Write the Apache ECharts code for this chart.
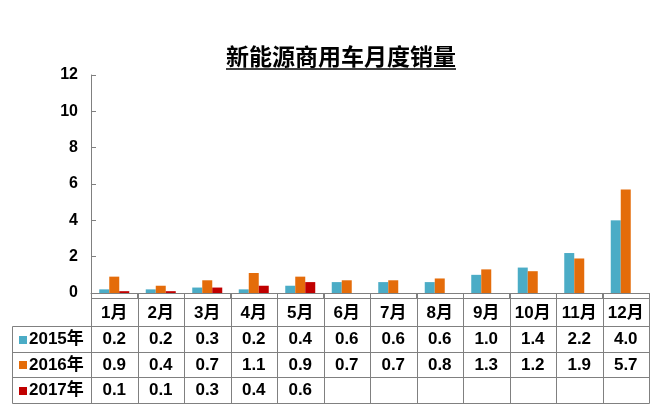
<!DOCTYPE html>
<html>
<head>
<meta charset="utf-8">
<script src="https://cdn.jsdelivr.net/npm/echarts@6/dist/echarts.min.js"></script>
<style>
html,body{margin:0;padding:0;background:#fff;}
#main{width:669px;height:409px;}
</style>
</head>
<body>
<div id="main"></div>
<script>
const titleText = '新能源商用车月度销量';
const months = ['1月','2月','3月','4月','5月','6月','7月','8月','9月','10月','11月','12月'];
const seriesNames = ['2015年','2016年','2017年'];
const sales2015 = [0.2,0.2,0.3,0.2,0.4,0.6,0.6,0.6,1.0,1.4,2.2,4.0];
const sales2016 = [0.9,0.4,0.7,1.1,0.9,0.7,0.7,0.8,1.3,1.2,1.9,5.7];
const sales2017 = [0.1,0.1,0.3,0.4,0.6,null,null,null,null,null,null,null];
const seriesColors = ['#4BACC6','#E46C0A','#C00000'];
const yMin = 0, yMax = 12, yInterval = 2;

const allSeries = [sales2015, sales2016, sales2017];
const FONT_FAMILY = '"Liberation Sans", Arial, "Noto Sans CJK SC", sans-serif';
const lineColor = '#808080';

const chart = echarts.init(document.getElementById('main'), null, {renderer:'canvas'});

const option = {
  animation: false,
  backgroundColor: '#fff',
  grid: {left: 91, right: 20, top: 75, bottom: 116, containLabel: false},
  xAxis: {
    type: 'category',
    data: months,
    axisLine: {lineStyle: {color: lineColor, width: 1}},
    axisTick: {show: true, length: 5, lineStyle: {color: lineColor}},
    axisLabel: {show: false},
    splitLine: {show: false}
  },
  yAxis: {
    type: 'value',
    min: yMin, max: yMax, interval: yInterval,
    axisLine: {show: true, lineStyle: {color: lineColor, width: 1}},
    axisTick: {show: true, inside: true, length: 5, lineStyle: {color: lineColor}},
    axisLabel: {color: '#000', fontWeight: 'bold', fontSize: 16, fontFamily: FONT_FAMILY, margin: 13},
    splitLine: {show: false}
  },
  series: allSeries.map((d, i) => ({
    name: seriesNames[i],
    type: 'bar',
    data: d,
    barWidth: 10,
    barGap: '0%',
    itemStyle: {color: seriesColors[i]}
  }))
};
chart.setOption(option);

// Build the data table and title from the axis scale
function buildGraphics() {
  const els = [];
  const baseY = chart.convertToPixel({yAxisIndex: 0}, 0);
  const centers = months.map(m => chart.convertToPixel({xAxisIndex: 0}, m));
  const band = centers.length > 1 ? (centers[1] - centers[0]) : 46;
  const leftX = centers[0] - band / 2;
  const rightX = centers[centers.length - 1] + band / 2;
  const tableTop = baseY + 5;
  const headerH = 28;
  const rowH = 25.5;
  const legendLeft = 12;
  const rowTops = [tableTop + headerH];
  for (let i = 1; i <= seriesNames.length; i++) rowTops.push(tableTop + headerH + rowH * i);
  const tableBottom = rowTops[rowTops.length - 1];
  const px = v => Math.round(v) + 0.5;
  const ls = {stroke: lineColor, lineWidth: 1};
  const tfont = 'bold 17px ' + FONT_FAMILY;

  // horizontal lines
  els.push({type: 'line', silent: true, shape: {x1: px(leftX), y1: px(tableTop), x2: px(rightX), y2: px(tableTop)}, style: ls});
  rowTops.forEach(y => {
    els.push({type: 'line', silent: true, shape: {x1: px(legendLeft), y1: px(y), x2: px(rightX), y2: px(y)}, style: ls});
  });
  // vertical lines
  for (let i = 0; i <= months.length; i++) {
    const x = leftX + band * i;
    els.push({type: 'line', silent: true, shape: {x1: px(x), y1: px(baseY), x2: px(x), y2: px(tableBottom)}, style: ls});
  }
  els.push({type: 'line', silent: true, shape: {x1: px(legendLeft), y1: px(rowTops[0]), x2: px(legendLeft), y2: px(tableBottom)}, style: ls});

  // month header
  months.forEach((m, i) => {
    els.push({type: 'text', silent: true, style: {text: m, x: centers[i], y: tableTop + headerH / 2 + 1, font: tfont, fill: '#000', textAlign: 'center', textVerticalAlign: 'middle', align: 'center', verticalAlign: 'middle'}});
  });
  // rows
  seriesNames.forEach((name, r) => {
    const cy = rowTops[r] + rowH / 2 + 1;
    els.push({type: 'rect', silent: true, shape: {x: 19, y: Math.round(cy - 4), width: 8, height: 8}, style: {fill: seriesColors[r]}});
    els.push({type: 'text', silent: true, style: {text: name, x: 29, y: cy, font: tfont, fill: '#000', textAlign: 'left', textVerticalAlign: 'middle', align: 'left', verticalAlign: 'middle'}});
    allSeries[r].forEach((v, i) => {
      if (v === null || v === undefined) return;
      els.push({type: 'text', silent: true, style: {text: v.toFixed(1), x: centers[i], y: cy, font: tfont, fill: '#000', textAlign: 'center', textVerticalAlign: 'middle', align: 'center', verticalAlign: 'middle'}});
    });
  });

  // title with underline
  const tFont = 'bold 23px "Noto Sans CJK SC", sans-serif';
  const cvs = document.createElement('canvas').getContext('2d');
  cvs.font = tFont;
  const tw = cvs.measureText(titleText).width;
  const tcx = 341, tcy = 56;
  els.push({type: 'text', silent: true, style: {text: titleText, x: tcx, y: tcy, font: tFont, fill: '#000', textAlign: 'center', textVerticalAlign: 'middle', align: 'center', verticalAlign: 'middle'}});
  els.push({type: 'line', silent: true, shape: {x1: tcx - tw / 2, y1: 69, x2: tcx + tw / 2, y2: 69}, style: {stroke: '#000', lineWidth: 1.5}});

  chart.setOption({graphic: {elements: els}});
}
buildGraphics();
</script>
</body>
</html>
